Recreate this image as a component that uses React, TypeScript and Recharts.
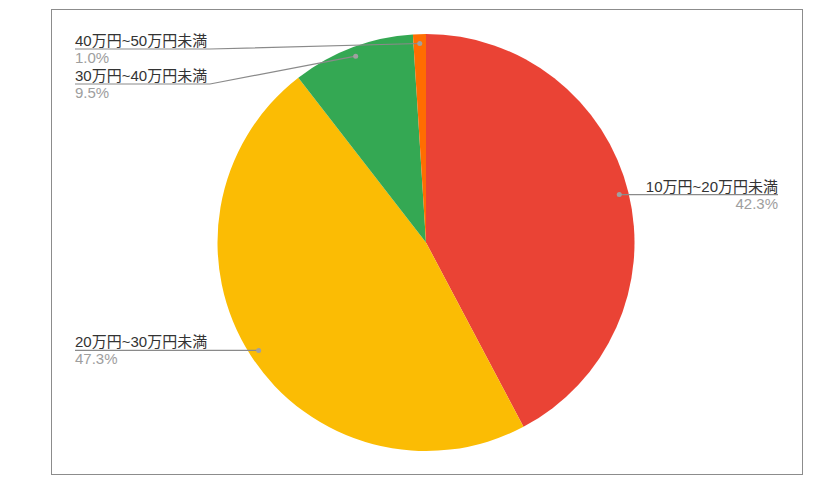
import { PieChart, Pie, Cell } from "recharts";

const categories = [
  "10万円~20万円未満",
  "20万円~30万円未満",
  "30万円~40万円未満",
  "40万円~50万円未満",
];
const shares = [42.3, 47.3, 9.5, 1.0];
const colors = ["#ea4335", "#fbbc04", "#34a853", "#ff6d01"];

const chartData = categories.map((name, i) => ({ name, value: shares[i] }));

const CX = 426;
const CY = 242.5;
const R = 208.5;
const DOT_R = R * 0.955;
const RAD = Math.PI / 180;
const LEFT_X = 75;
const RIGHT_X = 778;
const ELBOW_X = 210;
const LABEL_GAP = 35;
const FONT = "Arial, 'Liberation Sans', 'Noto Sans CJK JP', sans-serif";

// label line y per slice, pushed down when labels on one side collide
const total = shares.reduce((a, b) => a + b, 0);
const lineYs: number[] = (() => {
  let acc = 0;
  const pts = shares.map((v, i) => {
    const mid = 90 - ((acc + v / 2) / total) * 360;
    acc += v;
    const x = CX + DOT_R * Math.cos(mid * RAD);
    const y = CY - DOT_R * Math.sin(mid * RAD);
    return { i, x, y };
  });
  const out: number[] = [];
  const minY = CY - R + 15;
  [pts.filter((p) => p.x < CX), pts.filter((p) => p.x >= CX)].forEach((side) => {
    let prev = -Infinity;
    side
      .sort((a, b) => a.y - b.y)
      .forEach((p) => {
        const y = Math.max(p.y, minY, prev + LABEL_GAP);
        out[p.i] = y;
        prev = y;
      });
  });
  return out;
})();

const renderLabel = (props: any) => {
  const { cx, cy, midAngle, percent, index } = props;
  const dx = cx + DOT_R * Math.cos(-midAngle * RAD);
  const dy = cy + DOT_R * Math.sin(-midAngle * RAD);
  const ly = lineYs[index];
  const left = dx < cx;
  const pct = (percent * 100).toFixed(1) + "%";
  const points = left
    ? `${LEFT_X},${ly} ${Math.min(ELBOW_X, dx)},${ly} ${dx},${dy}`
    : `${dx},${dy} ${dx},${ly} ${RIGHT_X},${ly}`;
  return (
    <g key={`label-${index}`}>
      <polyline points={points} fill="none" stroke="#8a8a8a" strokeWidth={1.2} />
      <circle cx={dx} cy={dy} r={2.5} fill="#a0a0a0" />
      <text
        x={left ? LEFT_X : RIGHT_X}
        y={ly - 3}
        textAnchor={left ? "start" : "end"}
        fontSize={15}
        fontFamily={FONT}
        fill="#333333"
      >
        {categories[index]}
      </text>
      <text
        x={left ? LEFT_X : RIGHT_X}
        y={ly + 14}
        textAnchor={left ? "start" : "end"}
        fontSize={15}
        fontFamily={FONT}
        fill="#9e9e9e"
      >
        {pct}
      </text>
    </g>
  );
};

export default function App() {
  return (
    <div
      style={{
        position: "absolute",
        left: 0,
        top: 0,
        width: 840,
        height: 497,
        background: "#ffffff",
      }}
    >
      <div
        style={{
          position: "absolute",
          left: 51,
          top: 9,
          width: 750,
          height: 464,
          border: "1px solid #8c8c8c",
        }}
      />
      <div style={{ position: "absolute", left: 0, top: 0 }}>
        <PieChart
          width={840}
          height={497}
          margin={{ top: 0, right: 0, bottom: 0, left: 0 }}
        >
          <Pie
            data={chartData}
            dataKey="value"
            nameKey="name"
            cx={CX}
            cy={CY}
            outerRadius={R}
            startAngle={90}
            endAngle={-270}
            stroke="none"
            label={renderLabel}
            labelLine={false}
            isAnimationActive={false}
          >
            {chartData.map((d, i) => (
              <Cell key={d.name} fill={colors[i]} />
            ))}
          </Pie>
        </PieChart>
      </div>
    </div>
  );
}
